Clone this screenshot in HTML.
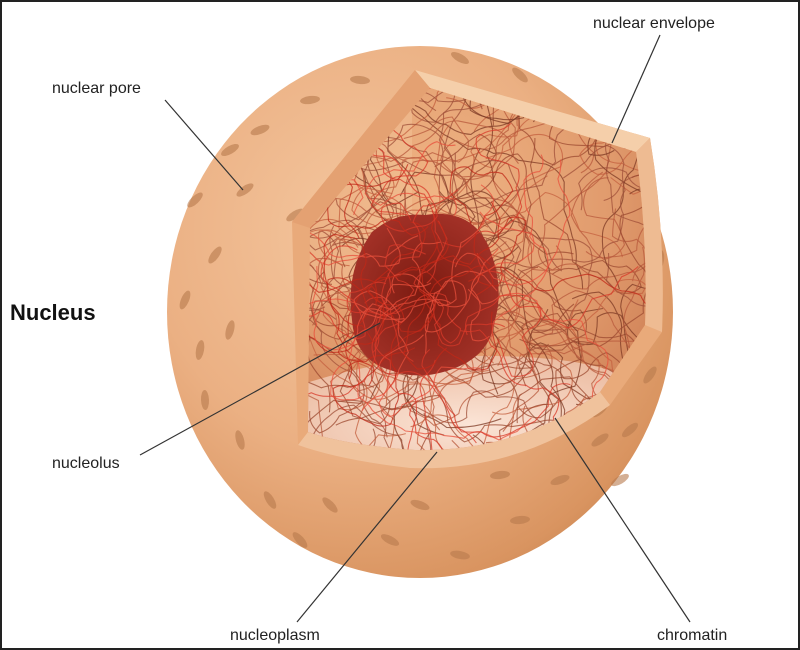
<!DOCTYPE html>
<html><head><meta charset="utf-8"><style>
html,body{margin:0;padding:0;background:#fff}
#w{width:796px;height:646px;border:2px solid #222;position:relative;overflow:hidden;background:#fff}
svg{position:absolute;left:0;top:0}
.t{font-family:"Liberation Sans",sans-serif;font-size:16px;fill:#222}
</style></head><body><div id="w">
<svg width="796" height="646" viewBox="2 2 796 646">
<defs>
<radialGradient id="sp" cx="0.38" cy="0.35" r="0.75">
<stop offset="0" stop-color="#f4c69e"/><stop offset="0.55" stop-color="#ebb083"/><stop offset="0.9" stop-color="#d99460"/><stop offset="1" stop-color="#c98552"/></radialGradient>
<radialGradient id="in" cx="0.4" cy="0.3" r="0.8">
<stop offset="0" stop-color="#f0b585"/><stop offset="0.6" stop-color="#e09a6c"/><stop offset="1" stop-color="#c9774e"/></radialGradient>
<radialGradient id="np" cx="0.5" cy="0.6" r="0.6">
<stop offset="0" stop-color="#fbe4d6"/><stop offset="1" stop-color="#ecbda3"/></radialGradient>
<radialGradient id="nu" cx="0.5" cy="0.5" r="0.6">
<stop offset="0" stop-color="#7a1a10"/><stop offset="1" stop-color="#a8342a"/></radialGradient>
<clipPath id="cut"><path d="M430,88 L636,152 Q648,240 645,325 L600,392 Q520,452 415,450 Q345,445 308,432 L310,228 Z"/></clipPath>
</defs>
<ellipse cx="420" cy="312" rx="253" ry="266" fill="url(#sp)"/>
<g id="pores"></g>
<path d="M415,70 L650,138 Q666,235 662,332 L610,405 Q520,472 410,468 Q340,460 298,445 L292,222 Z" fill="#e9aa7a"/>
<path d="M415,70 L650,138 L636,152 L430,88 Z" fill="#f5cfaa"/>
<path d="M415,70 L430,88 L310,228 L292,222 Z" fill="#e4a172"/>
<path d="M650,138 Q666,235 662,332 L645,325 Q648,240 636,152 Z" fill="#eebb92"/>
<path d="M298,445 Q340,460 410,468 Q520,472 610,405 L600,392 Q520,452 415,450 Q345,445 308,432 Z" fill="#f0c29c"/>
<g clip-path="url(#cut)">
<rect x="290" y="80" width="370" height="390" fill="url(#in)"/>
<path d="M412,88 L412,250 L300,320 L300,80 Z" fill="#f2c095" opacity="0.6"/>
<path d="M300,385 Q420,345 560,360 Q640,370 650,400 L650,470 L290,470 Z" fill="url(#np)"/>
<g id="chr" fill="none"></g>
<path d="M372,232 Q395,212 425,215 Q470,208 488,245 Q505,285 495,320 Q490,355 455,368 Q420,382 390,370 Q355,360 352,320 Q345,270 372,232 Z" fill="url(#nu)"/>
<g id="chr2" fill="none"></g>
</g>
<g stroke="#333" stroke-width="1.2">
<line x1="165" y1="100" x2="243" y2="190"/>
<line x1="660" y1="35" x2="612" y2="143"/>
<line x1="140" y1="455" x2="380" y2="323"/>
<line x1="297" y1="622" x2="437" y2="452"/>
<line x1="690" y1="622" x2="555" y2="418"/>
</g>
<text class="t" x="593" y="28">nuclear envelope</text>
<text class="t" x="52" y="93">nuclear pore</text>
<text x="10" y="320" style="font-family:'Liberation Sans',sans-serif;font-weight:bold;font-size:22px;fill:#111">Nucleus</text>
<text class="t" x="52" y="468">nucleolus</text>
<text class="t" x="230" y="640">nucleoplasm</text>
<text class="t" x="657" y="640">chromatin</text>
</svg></div>
<script>
var s=7;function r(){s=(s*16807)%2147483647;return s/2147483647;}
var NS="http://www.w3.org/2000/svg";
function curves(id,n,x0,y0,w,h,cols,sw,step,len){var g=document.getElementById(id);
for(var i=0;i<n;i++){var p=document.createElementNS(NS,"path");
var x=x0+r()*w,y=y0+r()*h,a=r()*6.28,d="M"+x.toFixed(1)+","+y.toFixed(1);
for(var k=0;k<len;k++){a+=(r()-0.5)*2.2;var cx=x+Math.cos(a)*step,cy=y+Math.sin(a)*step;a+=(r()-0.5)*2.2;x=cx+Math.cos(a)*step;y=cy+Math.sin(a)*step;
d+=" Q"+cx.toFixed(1)+","+cy.toFixed(1)+" "+x.toFixed(1)+","+y.toFixed(1);}
p.setAttribute("d",d);p.setAttribute("stroke",cols[i%cols.length]);p.setAttribute("stroke-width",sw);p.setAttribute("opacity",0.75);g.appendChild(p);}}
curves("chr",160,295,85,360,380,["#9c4a30","#b85a3c","#7e3a24","#c4603f","#a0503a"],1.1,14,12);
curves("chr2",50,350,210,150,165,["#d83a2a","#e8503c","#c02818"],1.1,10,12);
var pores=[[245,190],[215,255],[195,200],[230,330],[205,400],[240,440],[270,500],[330,505],[390,540],[460,555],[520,520],[560,480],[600,440],[630,430],[650,375],[660,260],[610,205],[460,58],[360,80],[310,100],[260,130],[230,150],[185,300],[200,350],[300,540],[420,505],[500,475],[620,480],[640,345],[520,75],[295,215],[600,410]];
var g=document.getElementById("pores");pores.forEach(function(p){var e=document.createElementNS(NS,"ellipse");
e.setAttribute("cx",p[0]);e.setAttribute("cy",p[1]);e.setAttribute("rx",4);e.setAttribute("ry",10);
e.setAttribute("fill","#b77a4c");e.setAttribute("opacity","0.6");
var a=Math.atan2(p[1]-312,p[0]-420)*180/Math.PI;e.setAttribute("transform","rotate("+(a+20)+" "+p[0]+" "+p[1]+")");g.appendChild(e);});
</script>
</body></html>
